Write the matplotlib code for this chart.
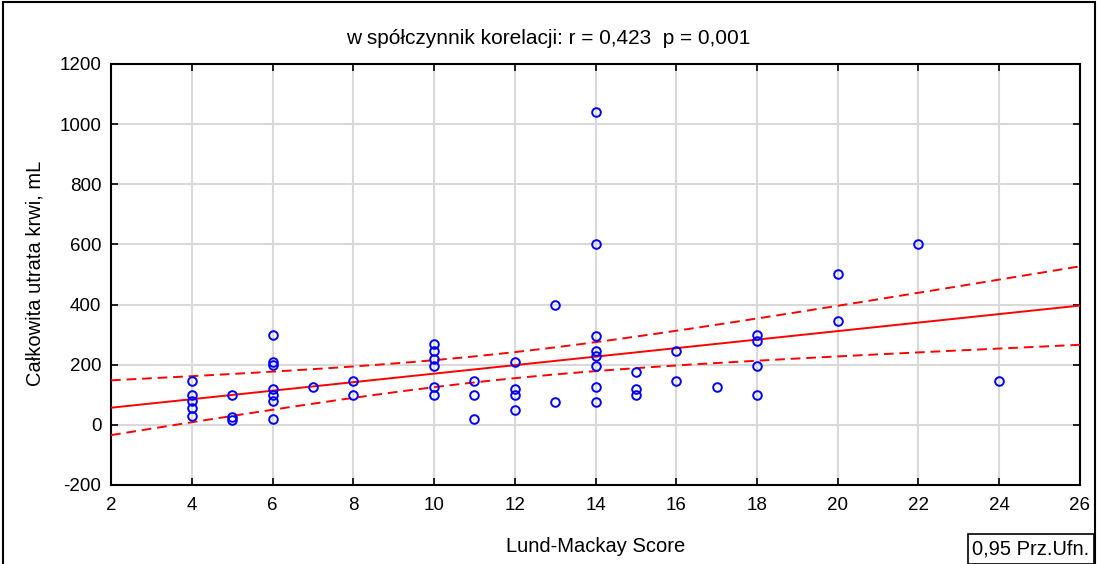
import numpy as np
import matplotlib
matplotlib.use("Agg")
import matplotlib.pyplot as plt
from matplotlib.patches import Rectangle

plt.rcParams['font.family'] = ['Liberation Sans', 'DejaVu Sans']
plt.rcParams['axes.unicode_minus'] = False

# Lund-Mackay score vs. total blood loss (mL)
score = [4, 4, 4, 4, 4,
         5, 5, 5,
         6, 6, 6, 6, 6, 6, 6,
         7,
         8, 8,
         10, 10, 10, 10, 10, 10,
         11, 11, 11,
         12, 12, 12, 12,
         13, 13,
         14, 14, 14, 14, 14, 14, 14, 14,
         15, 15, 15,
         16, 16,
         17,
         18, 18, 18, 18,
         20, 20,
         22,
         24]
blood_loss = [145, 100, 80, 55, 30,
              100, 25, 15,
              300, 210, 200, 120, 100, 80, 20,
              125,
              145, 100,
              270, 245, 220, 195, 125, 100,
              145, 100, 20,
              210, 120, 100, 50,
              400, 75,
              1040, 600, 295, 245, 230, 195, 125, 75,
              175, 120, 100,
              245, 145,
              125,
              300, 280, 195, 100,
              500, 345,
              600,
              145]

x_ticks = [2, 4, 6, 8, 10, 12, 14, 16, 18, 20, 22, 24, 26]
y_ticks = [-200, 0, 200, 400, 600, 800, 1000, 1200]

title_text = "w spółczynnik korelacji: r = 0,423  p = 0,001"
x_label = "Lund-Mackay Score"
y_label = "Całkowita utrata krwi, mL"
band_label = "0,95 Prz.Ufn."

x = np.asarray(score, dtype=float)
y = np.asarray(blood_loss, dtype=float)
n = len(x)

# Least-squares fit and 95% confidence band for the mean
slope, intercept = np.polyfit(x, y, 1)
resid = y - (slope * x + intercept)
s = np.sqrt(np.sum(resid ** 2) / (n - 2))
sxx = np.sum((x - x.mean()) ** 2)
t_crit = 2.006
xs = np.linspace(2, 26, 200)
fit = slope * xs + intercept
half = t_crit * s * np.sqrt(1.0 / n + (xs - x.mean()) ** 2 / sxx)

fig = plt.figure(figsize=(10.97, 5.64), dpi=100)
ax = fig.add_axes([0.1012, 0.1401, 0.8833, 0.7465])

ax.plot(x, y, linestyle='none', marker='o', markersize=6.2,
        markerfacecolor='none', markeredgecolor='#0000ff',
        markeredgewidth=1.4, zorder=4)
ax.plot(xs, fit, color='#ff0000', linewidth=1.4, zorder=3)
ax.plot(xs, fit + half, color='#ff0000', linewidth=1.4,
        linestyle=(0, (5, 3)), zorder=3)
ax.plot(xs, fit - half, color='#ff0000', linewidth=1.4,
        linestyle=(0, (5, 3)), zorder=3)

ax.set_xlim(2, 26)
ax.set_ylim(-200, 1200)
ax.set_xticks(x_ticks)
ax.set_yticks(y_ticks)
ax.grid(True, color='#d9d9d9', linewidth=1.5)
ax.set_axisbelow(True)
ax.tick_params(direction='in', length=5, width=1.2, labelsize=13.5,
               top=True, right=True, colors='black')
ax.tick_params(axis='x', pad=9)
ax.tick_params(axis='y', pad=7)
for sp in ax.spines.values():
    sp.set_linewidth(1.5)
    sp.set_color('black')

fig.text(0.5, 1 - 38 / 564, title_text, fontsize=15,
         ha='center', va='center')
fig.text(0.5 * (0.1012 + 0.9845), 1 - 547 / 564, x_label, fontsize=14.5,
         ha='center', va='center')
fig.text(35 / 1097, 1 - 273 / 564, y_label, fontsize=14.5,
         ha='center', va='center', rotation=90)

# Legend-style box for the confidence band
fig.patches.append(Rectangle((968 / 1097, 0.0), 126 / 1097, 30 / 564,
                             transform=fig.transFigure, facecolor='white',
                             edgecolor='black', linewidth=1.2))
fig.text(1031 / 1097, 1 - 549 / 564, band_label, fontsize=14.5,
         ha='center', va='center')

# Outer frame
fig.patches.append(Rectangle((0.003, -0.01), 0.995, 1.007,
                             transform=fig.transFigure, fill=False,
                             edgecolor='black', linewidth=1.5))

fig.savefig('out.png', dpi=100)
